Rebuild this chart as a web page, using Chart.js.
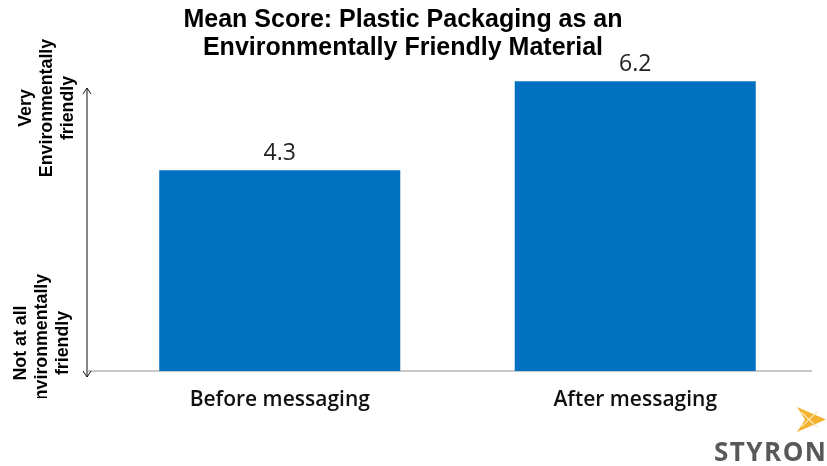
<!DOCTYPE html>
<html>
<head>
<meta charset="utf-8">
<script src="https://cdn.jsdelivr.net/npm/chart.js@4"></script>
<style>
  html, body { margin: 0; padding: 0; background: #fff; }
  #wrap { width: 827px; height: 466px; }
</style>
</head>
<body>
<div id="wrap"><canvas id="score-chart" width="827" height="466"></canvas></div>
<script>
const categories = ['Before messaging', 'After messaging'];
const meanScores = [4.3, 6.2];
const titleLines = ['Mean Score: Plastic Packaging as an', 'Environmentally Friendly Material'];
const topLabel = ['Very', 'Environmentally', 'friendly'];
const bottomLabel = ['Not at all', 'Environmentally', 'friendly'];

const BLUE = '#0070C0';

// title, rotated scale labels with the double arrow, baseline, value labels and logo
const decorations = {
  id: 'decorations',
  beforeDatasetsDraw(chart) {
    const ctx = chart.ctx;
    const base = chart.scales.y.getPixelForValue(0);
    ctx.save();
    ctx.strokeStyle = '#c8c8c8';
    ctx.lineWidth = 2;
    ctx.beginPath();
    ctx.moveTo(88, base);
    ctx.lineTo(812, base);
    ctx.stroke();
    ctx.restore();
  },
  afterDatasetsDraw(chart) {
    const ctx = chart.ctx;
    ctx.save();

    // title
    ctx.fillStyle = '#000';
    ctx.font = 'bold 25px "Liberation Sans", Arial, sans-serif';
    ctx.textAlign = 'center';
    ctx.textBaseline = 'alphabetic';
    titleLines.forEach((t, i) => ctx.fillText(t, 403, 27 + i * 28));

    // value labels above bars
    const meta = chart.getDatasetMeta(0);
    ctx.font = '23px "Open Sans", sans-serif';
    ctx.fillStyle = '#222';
    meta.data.forEach((bar, i) => {
      ctx.fillText(meanScores[i].toFixed(1), bar.x, bar.y - 10);
    });

    // double-headed arrow
    const ax = 87, top = 88, bot = 377;
    ctx.strokeStyle = '#111';
    ctx.lineWidth = 1;
    ctx.beginPath();
    ctx.moveTo(ax, top); ctx.lineTo(ax, bot);
    ctx.moveTo(ax - 4, top + 6); ctx.lineTo(ax, top); ctx.lineTo(ax + 4, top + 6);
    ctx.moveTo(ax - 4, bot - 6); ctx.lineTo(ax, bot); ctx.lineTo(ax + 4, bot - 6);
    ctx.stroke();

    // rotated end labels
    ctx.font = 'bold 17.8px "Liberation Sans", Arial, sans-serif';
    ctx.fillStyle = '#000';
    ctx.textBaseline = 'middle';
    const drawRotated = (lines, x0, cy) => {
      lines.forEach((t, i) => {
        ctx.save();
        ctx.translate(x0 + i * 21, cy);
        ctx.rotate(-Math.PI / 2);
        ctx.fillText(t, 0, 0);
        ctx.restore();
      });
    };
    drawRotated(topLabel, 26, 108);
    ctx.save();
    ctx.beginPath();
    ctx.rect(0, 200, 80, 198);
    ctx.clip();
    drawRotated(bottomLabel, 21, 343);
    ctx.restore();

    // logo mark
    const lx = 797, ly = 407;
    ctx.fillStyle = '#F2B230';
    ctx.beginPath();
    ctx.moveTo(lx, ly); ctx.lineTo(lx + 29, ly + 12.5); ctx.lineTo(lx, ly + 25);
    ctx.lineTo(lx + 8, ly + 12.5); ctx.closePath();
    ctx.fill();
    ctx.strokeStyle = '#FBE3A8';
    ctx.lineWidth = 1.5;
    ctx.beginPath();
    ctx.moveTo(lx + 4, ly + 5); ctx.lineTo(lx + 20, ly + 20);
    ctx.moveTo(lx + 4, ly + 20); ctx.lineTo(lx + 20, ly + 5);
    ctx.stroke();

    // logo wordmark, spaced to fill its box
    const word = 'STYRON';
    ctx.font = 'bold 26px "Open Sans", sans-serif';
    ctx.fillStyle = '#595959';
    ctx.textAlign = 'left';
    ctx.textBaseline = 'alphabetic';
    const widths = [...word].map(c => ctx.measureText(c).width);
    const total = widths.reduce((a, b) => a + b, 0);
    const gap = (112 - total) / (word.length - 1);
    let x = 714;
    [...word].forEach((c, i) => { ctx.fillText(c, x, 461); x += widths[i] + gap; });

    ctx.restore();
  }
};

new Chart(document.getElementById('score-chart'), {
  type: 'bar',
  data: {
    labels: categories,
    datasets: [{
      data: meanScores,
      backgroundColor: BLUE,
      borderWidth: 0,
      barPercentage: 0.678,
      categoryPercentage: 1
    }]
  },
  options: {
    responsive: false,
    animation: false,
    layout: { padding: { left: 102, right: 14, top: 44, bottom: 0 } },
    plugins: { legend: { display: false }, tooltip: { enabled: false } },
    scales: {
      x: {
        grid: { display: false, drawTicks: false },
        border: { display: false },
        ticks: {
          padding: 16,
          color: '#111',
          font: { family: '"Open Sans", sans-serif', size: 21, weight: 600 }
        },
        afterFit(scale) { scale.height = 95; }
      },
      y: { display: false, min: 0, max: 7 }
    }
  },
  plugins: [decorations]
});
</script>
</body>
</html>
